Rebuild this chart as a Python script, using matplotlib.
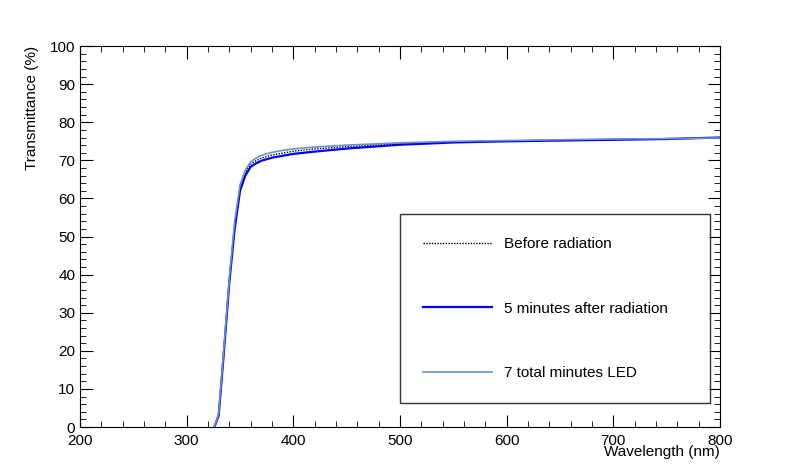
import matplotlib
matplotlib.use("Agg")
import matplotlib.pyplot as plt
from matplotlib.ticker import MultipleLocator

plt.rcParams["font.family"] = "Liberation Sans"

wl = [326, 330, 335, 340, 345, 350, 355, 360, 365, 370, 380, 390, 400,
      420, 450, 500, 550, 600, 650, 700, 750, 800]
before = [0, 3.2, 20.5, 38.5, 53, 62.8, 66.8, 69, 69.9, 70.6, 71.4, 71.9, 72.4,
          73, 73.6, 74.4, 74.9, 75.1, 75.3, 75.5, 75.7, 75.9]
after5 = [0, 3, 20, 38, 52, 62, 66, 68.3, 69.2, 69.9, 70.7, 71.2, 71.7,
          72.3, 73.1, 74.1, 74.7, 75.0, 75.2, 75.4, 75.6, 76.0]
led7 = [0, 3.5, 21, 39, 54, 63.5, 67.5, 69.6, 70.6, 71.3, 72.1, 72.6, 73,
        73.5, 74, 74.6, 75, 75.2, 75.4, 75.6, 75.7, 75.9]

fig = plt.figure(figsize=(8, 4.75), dpi=100)
ax = fig.add_axes([0.1, 0.101, 0.8, 0.802])

ax.plot(wl, after5, color="#0000ff", lw=1.6, label="5 minutes after radiation")
ax.plot(wl, before, color="black", lw=1, ls=(0, (1, 1)), label="Before radiation")
ax.plot(wl, led7, color="#6b8fd8", lw=1.2, label="7 total minutes LED")

ax.set_xlim(200, 800)
ax.set_ylim(0, 100)
ax.xaxis.set_major_locator(MultipleLocator(100))
ax.xaxis.set_minor_locator(MultipleLocator(20))
ax.yaxis.set_major_locator(MultipleLocator(10))
ax.yaxis.set_minor_locator(MultipleLocator(2))
ax.tick_params(which="both", direction="in", top=True, right=True, labelsize=11)
ax.tick_params(which="major", length=9)
ax.tick_params(which="minor", length=4.5)
ax.tick_params(axis="x", pad=5)

ax.set_xlabel("Wavelength (nm)", fontsize=11, loc="right", labelpad=-2)
ax.set_ylabel("Transmittance (%)", fontsize=11, loc="top", labelpad=8)

h, l = ax.get_legend_handles_labels()
order = [1, 0, 2]
leg = ax.legend([h[i] for i in order], [l[i] for i in order],
                loc="lower left", bbox_to_anchor=(0.5, 0.063, 0.484, 0.436),
                mode="expand", fontsize=11, frameon=True, fancybox=False,
                edgecolor="black", borderaxespad=0, labelspacing=3.3,
                handlelength=4.5, borderpad=1.5)
leg.get_frame().set_linewidth(1)

fig.savefig("out.png")
